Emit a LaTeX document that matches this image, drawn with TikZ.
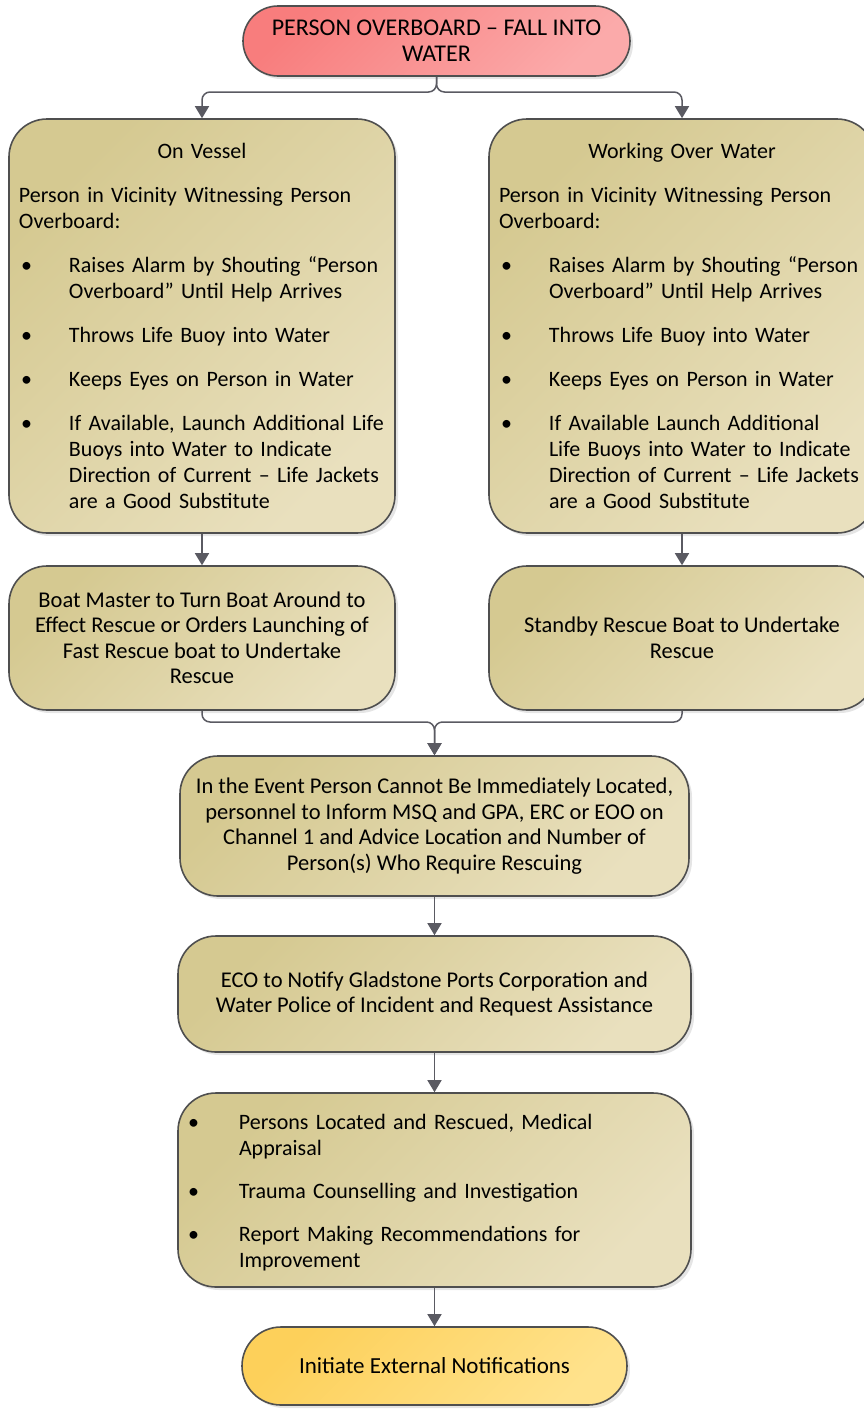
\documentclass[tikz,border=0pt]{standalone}
\usepackage{fontspec}
\setmainfont{Carlito}
\usetikzlibrary{arrows.meta,shapes.misc,shadows}

\definecolor{khakiA}{HTML}{D5C991}
\definecolor{khakiB}{HTML}{E9E0BE}
\definecolor{redA}{HTML}{F87D7D}
\definecolor{redB}{HTML}{FBAAAA}
\definecolor{goldA}{HTML}{FDD05A}
\definecolor{goldB}{HTML}{FFE28C}
\definecolor{rim}{HTML}{4F4F4F}
\definecolor{wire}{HTML}{5A5A62}

% bullet line with hanging indent
\newcommand{\bul}[1][2pt]{\par\hangindent=50pt\hangafter=1\noindent\makebox[50pt][l]{\hspace*{#1}\textbullet}\ignorespaces}

\tikzset{
    box/.style={draw=rim, line width=1.6pt, rounded corners=38pt,
        top color=khakiA, bottom color=khakiB, shading angle=45,
        drop shadow={shadow xshift=3pt, shadow yshift=-3pt, fill=black!20},
        font=\fontsize{22.5}{25.5}\selectfont, text=black, inner sep=0pt, align=center},
    listbox/.style={draw=rim, line width=1.6pt, rounded corners=38pt,
        top color=khakiA, bottom color=khakiB, shading angle=45,
        drop shadow={shadow xshift=3pt, shadow yshift=-3pt, fill=black!20},
        font=\fontsize{22}{26}\selectfont, text=black, inner sep=0pt,
        minimum width=386pt, text width=366pt,
        execute at begin node={\raggedright\setlength{\parskip}{18pt}}},
    pill/.style={box, rounded rectangle, rounded corners=0pt},
    edge/.style={-{Triangle[width=14pt,length=12pt]}, draw=wire, line width=1.5pt}
}

\begin{document}
\begin{tikzpicture}[x=1pt, y=-1pt]
\useasboundingbox (0,0) rectangle (864,1409);

\node[pill, top color=redA, bottom color=redB, shading angle=45,
    font=\fontsize{24}{26}\selectfont,
    minimum width=387pt, minimum height=70pt] (alarm) at (436.5,41)
    {PERSON OVERBOARD -- FALL INTO\\WATER};

\node[listbox, minimum height=414pt] (vessel) at (202,326) {%
{\centering On Vessel\par}
Person in Vicinity Witnessing Person\newline Overboard:
\bul Raises Alarm by Shouting “Person\newline Overboard” Until Help Arrives
\bul Throws Life Buoy into Water
\bul Keeps Eyes on Person in Water
\bul If Available, Launch Additional Life\newline Buoys into Water to Indicate\newline Direction of Current -- Life Jackets\newline are a Good Substitute\par};

\node[listbox, minimum height=414pt] (water) at (682,326) {%
{\centering Working Over Water\par}
Person in Vicinity Witnessing Person\newline Overboard:
\bul Raises Alarm by Shouting “Person\newline Overboard” Until Help Arrives
\bul Throws Life Buoy into Water
\bul Keeps Eyes on Person in Water
\bul If Available Launch Additional\newline Life Buoys into Water to Indicate\newline Direction of Current -- Life Jackets\newline are a Good Substitute\par};

\node[box, minimum width=386pt, minimum height=144pt] (boatmaster) at (202,638)
    {Boat Master to Turn Boat Around to\\Effect Rescue or Orders Launching of\\Fast Rescue boat to Undertake\\Rescue};
\node[box, minimum width=386pt, minimum height=144pt] (standby) at (682,638)
    {Standby Rescue Boat to Undertake\\Rescue};

\node[box, minimum width=509pt, minimum height=140pt] (inform) at (434.5,826)
    {In the Event Person Cannot Be Immediately Located,\\personnel to Inform MSQ and GPA, ERC or EOO on\\Channel 1 and Advice Location and Number of\\Person(s) Who Require Rescuing};

\node[box, minimum width=513pt, minimum height=116pt] (notify) at (434.5,994)
    {ECO to Notify Gladstone Ports Corporation and\\Water Police of Incident and Request Assistance};

\node[listbox, minimum width=513pt, text width=491pt, minimum height=194pt,
    execute at begin node={\raggedright\setlength{\parskip}{17pt}}] (located) at (434.5,1190) {%
\vspace*{-22pt}
\bul[-1pt] Persons Located and Rescued, Medical\newline Appraisal
\bul[-1pt] Trauma Counselling and Investigation
\bul[-1pt] Report Making Recommendations for\newline Improvement\par};

\node[pill, top color=goldA, bottom color=goldB, shading angle=45,
    font=\fontsize{23}{26}\selectfont,
    minimum width=385pt, minimum height=78pt] (external) at (434.5,1366)
    {Initiate External Notifications};

% split and merge points
\coordinate (split) at (436.5,92);
\coordinate (merge) at (434.5,722);

\draw[edge, rounded corners=8pt] (alarm.south) -- (split) -| (vessel.north);
\draw[edge, rounded corners=8pt] (alarm.south) -- (split) -| (water.north);
\draw[edge] (vessel) -- (boatmaster);
\draw[edge] (water) -- (standby);
\draw[edge, rounded corners=8pt] (boatmaster.south) |- (merge) -- (inform.north);
\draw[edge, rounded corners=8pt] (standby.south) |- (merge) -- (inform.north);
\draw[edge] (inform) -- (notify);
\draw[edge] (notify) -- (located);
\draw[edge] (located) -- (external);

\end{tikzpicture}
\end{document}
